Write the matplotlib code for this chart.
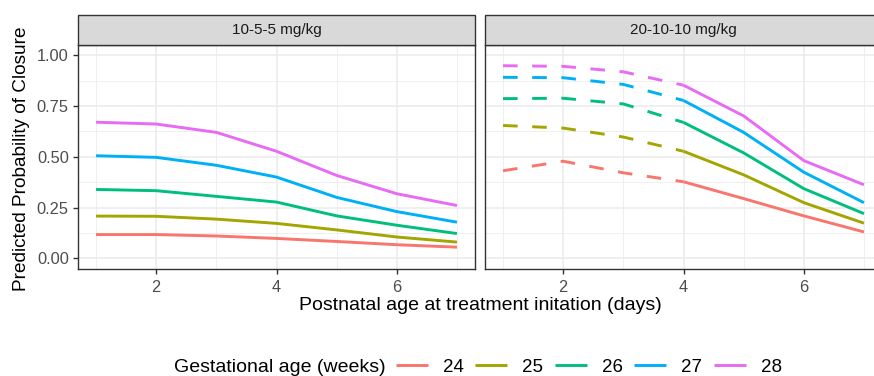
import numpy as np
import matplotlib.pyplot as plt
from matplotlib.patches import Rectangle
from matplotlib.lines import Line2D

plt.rcParams['font.family'] = ['Liberation Sans', 'DejaVu Sans']

# data
days = [1, 2, 3, 4, 5, 6, 7]
ga_weeks = ['24', '25', '26', '27', '28']
colors = ['#F8766D', '#A3A500', '#00BF7D', '#00B0F6', '#E76BF3']
panels = ['10-5-5 mg/kg', '20-10-10 mg/kg']

low_dose = {
    '24': [0.117, 0.117, 0.110, 0.098, 0.083, 0.067, 0.055],
    '25': [0.208, 0.207, 0.193, 0.172, 0.140, 0.105, 0.080],
    '26': [0.339, 0.333, 0.305, 0.277, 0.209, 0.163, 0.122],
    '27': [0.505, 0.497, 0.458, 0.400, 0.300, 0.230, 0.178],
    '28': [0.670, 0.661, 0.620, 0.527, 0.408, 0.318, 0.260],
}
high_dose = {
    '24': [0.431, 0.478, 0.421, 0.377, 0.294, 0.209, 0.130],
    '25': [0.654, 0.641, 0.597, 0.527, 0.411, 0.274, 0.173],
    '26': [0.786, 0.788, 0.760, 0.669, 0.519, 0.343, 0.220],
    '27': [0.891, 0.889, 0.856, 0.777, 0.620, 0.424, 0.274],
    '28': [0.948, 0.945, 0.918, 0.852, 0.701, 0.481, 0.362],
}
# in the high dose panel days up to 4 are drawn dashed
dash_until = 4

W, H = 874, 376
fig = plt.figure(figsize=(W / 100, H / 100), dpi=100)

def frac(x0, y0, x1, y1):
    return [x0 / W, 1 - y1 / H, (x1 - x0) / W, (y1 - y0) / H]

axes = [fig.add_axes(frac(78, 45, 475, 268.5)),
        fig.add_axes(frac(485, 45, 882, 268.5))]

for i, (ax, data) in enumerate(zip(axes, [low_dose, high_dose])):
    ax.set_xlim(0.7, 7.3)
    ax.set_ylim(-0.05, 1.05)
    ax.set_xticks([2, 4, 6])
    ax.set_xticks([1, 3, 5, 7], minor=True)
    ax.set_yticks([0, 0.25, 0.5, 0.75, 1.0])
    ax.set_yticks([0.125, 0.375, 0.625, 0.875], minor=True)
    ax.grid(which='major', color='#EBEBEB', lw=1.1)
    ax.grid(which='minor', color='#EBEBEB', lw=0.55)
    ax.set_axisbelow(True)
    for s in ax.spines.values():
        s.set_color('#333333')
        s.set_linewidth(1.0)
    ax.tick_params(which='major', length=3.6, width=1, color='#333333',
                   labelsize=11.8, labelcolor='#4D4D4D', pad=3)
    ax.tick_params(axis='x', which='major', pad=4.5)
    ax.tick_params(which='minor', length=0)
    if i == 0:
        ax.set_yticklabels(['0.00', '0.25', '0.50', '0.75', '1.00'])
    else:
        ax.tick_params(axis='y', which='major', length=0, labelleft=False)

    x = np.array(days)
    for ga, col in zip(ga_weeks, colors):
        y = np.array(data[ga])
        if i == 0:
            ax.plot(x, y, color=col, lw=2.1, solid_capstyle='butt')
        else:
            m1 = x <= dash_until
            m2 = x >= dash_until
            ax.plot(x[m1], y[m1], color=col, lw=2.1, dashes=(5, 5),
                    dash_capstyle='butt')
            ax.plot(x[m2], y[m2], color=col, lw=2.1, solid_capstyle='butt')

    # facet strip
    pos = ax.get_position()
    sh = 30 / H
    fig.patches.append(Rectangle((pos.x0, pos.y1), pos.width, sh,
                                 transform=fig.transFigure, facecolor='#D9D9D9',
                                 edgecolor='#333333', lw=1.0, zorder=3))
    fig.text(pos.x0 + pos.width / 2, pos.y1 + sh / 2, panels[i],
             ha='center', va='center', fontsize=11, color='#1A1A1A')

fig.text(22 / W, 1 - 159 / H, 'Predicted Probability of Closure',
         rotation=90, ha='center', va='center', fontsize=13.7)
fig.text(480 / W, 1 - 305 / H, 'Postnatal age at treatment initation (days)',
         ha='center', va='center', fontsize=14)

# legend at the bottom
fig.text(174 / W, 1 - 367 / H, 'Gestational age (weeks)',
         ha='left', va='center', fontsize=14)
handles = [Line2D([], [], color=c, lw=2.1, solid_capstyle='butt') for c in colors]
fig.legend(handles, ga_weeks, loc='center left', bbox_to_anchor=(396 / W, 1 - 367 / H),
           ncol=5, frameon=False, fontsize=13.5, handlelength=1.7,
           handletextpad=0.8, columnspacing=0.62, borderaxespad=0, borderpad=0)

fig.savefig('out.png', dpi=100)
